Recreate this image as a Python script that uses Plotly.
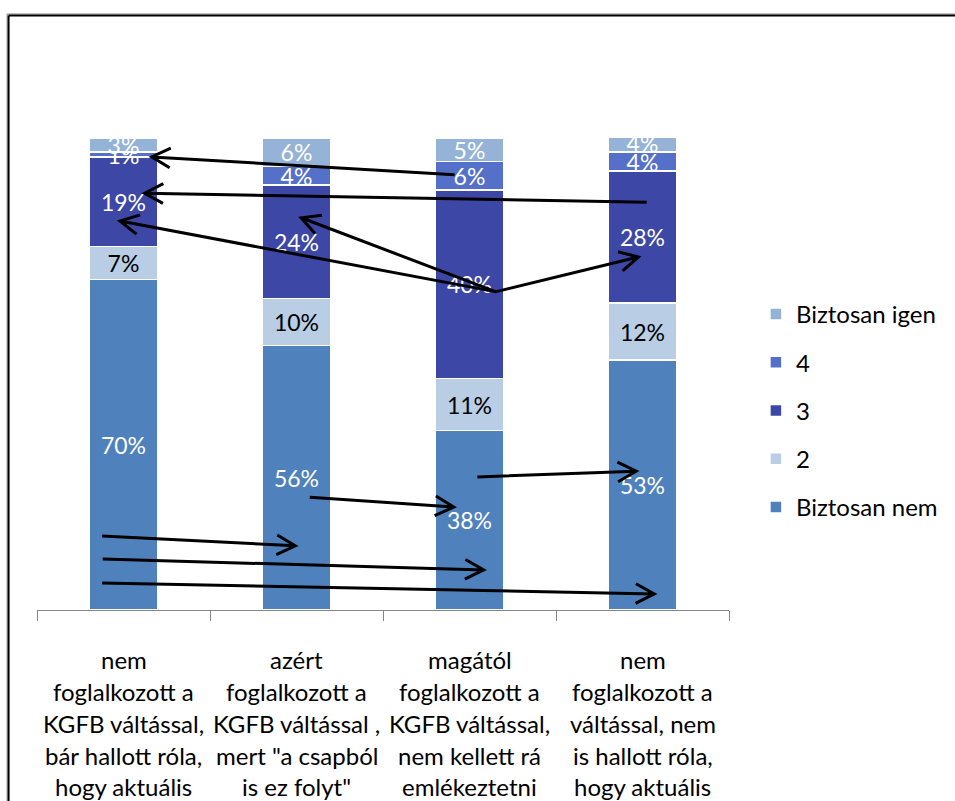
import math
import plotly.graph_objects as go

# Survey answers, share of respondents (%) per group
categories = [
    ["nem", "foglalkozott a", "KGFB váltással,", "bár hallott róla,", "hogy aktuális"],
    ["azért", "foglalkozott a", "KGFB váltással ,", "mert \"a csapból", "is ez folyt\""],
    ["magától", "foglalkozott a", "KGFB váltással,", "nem kellett rá", "emlékeztetni"],
    ["nem", "foglalkozott a", "váltással, nem", "is hallott róla,", "hogy aktuális"],
]
series_names = ["Biztosan nem", "2", "3", "4", "Biztosan igen"]
biztosan_nem = [70, 56, 38, 53]
ketto = [7, 10, 11, 12]
harom = [19, 24, 40, 28]
negy = [1, 4, 6, 4]
biztosan_igen = [3, 6, 5, 4]
series_values = [biztosan_nem, ketto, harom, negy, biztosan_igen]

colors = ["#4F81BD", "#B9CDE5", "#3C47A6", "#5570C9", "#95B3D7"]
text_colors = ["white", "black", "white", "white", "white"]

# Hand-drawn comparison arrows: (tail category pos, tail %, head category pos, head %)
arrows = [
    (1.909, 92.2, 0.163, 96.0),
    (3.016, 86.4, 0.122, 88.3),
    (2.151, 67.4, -0.02, 82.4),
    (2.151, 67.4, 1.027, 83.1),
    (2.151, 67.4, 2.976, 74.8),
    (1.079, 23.9, 1.909, 21.8),
    (2.048, 28.2, 2.964, 29.4),
    (-0.120, 15.7, 0.993, 13.6),
    (-0.114, 10.8, 2.082, 8.5),
    (-0.114, 5.7, 3.068, 3.4),
]

W, H = 955, 801
ML, MR, MT, MB = 37, 224, 138, 191
PW, PH = W - ML - MR, H - MT - MB
FONT = "Lato"


def px_x(p):
    return (p - ML) / PW


def px_y(p):
    return (H - MB - p) / PH


fig = go.Figure()
labels = [",".join(c) for c in categories]
n = len(series_names)
for i, (name, vals, col, tcol) in enumerate(zip(series_names, series_values, colors, text_colors)):
    fig.add_trace(go.Bar(
        name=name, x=labels, y=vals, legendgroup=name, legendrank=n - i,
        marker=dict(color=col, line=dict(color="white", width=1.5)),
        text=[f"{v}%" for v in vals], textposition="inside",
        insidetextanchor="middle",
        textfont=dict(family=FONT, size=23, color=tcol),
        hoverinfo="skip",
    ))

shapes = []
# chart frame (top and left edges; the rest lies outside the page)
shapes.append(dict(type="line", xref="paper", yref="paper",
                   x0=px_x(7), x1=px_x(W + 5), y0=px_y(14), y1=px_y(14),
                   line=dict(color="#8a8a8a", width=1)))
shapes.append(dict(type="line", xref="paper", yref="paper",
                   x0=px_x(7), x1=px_x(7), y0=px_y(14), y1=px_y(H + 5),
                   line=dict(color="#8a8a8a", width=1)))
shapes.append(dict(type="line", xref="paper", yref="paper",
                   x0=px_x(8.5), x1=px_x(W + 5), y0=px_y(15.5), y1=px_y(15.5),
                   line=dict(color="black", width=2)))
shapes.append(dict(type="line", xref="paper", yref="paper",
                   x0=px_x(8.5), x1=px_x(8.5), y0=px_y(15.5), y1=px_y(H + 5),
                   line=dict(color="black", width=2)))

# arrows: drawn in pixel offsets anchored at the head
sx = PW / 4.0
sy = PH / 100.0
arm, half = 21, math.radians(28)
for x0, y0, x1, y1 in arrows:
    dx = (x0 - x1) * sx
    dy = (y0 - y1) * sy
    ang = math.atan2(dy, dx)
    a1 = (arm * math.cos(ang + half), arm * math.sin(ang + half))
    a2 = (arm * math.cos(ang - half), arm * math.sin(ang - half))
    path = (f"M{dx:.2f},{dy:.2f} L0,0 "
            f"M{a1[0]:.2f},{a1[1]:.2f} L0,0 L{a2[0]:.2f},{a2[1]:.2f}")
    shapes.append(dict(type="path", xref="x", yref="y",
                       xsizemode="pixel", ysizemode="pixel",
                       xanchor=x1, yanchor=y1, path=path,
                       line=dict(color="black", width=3)))

annotations = []
line_centers = [659, 691, 723, 755, 786]
for i, lines in enumerate(categories):
    for ln, yc in zip(lines, line_centers):
        annotations.append(dict(
            x=i, y=px_y(yc), xref="x", yref="paper",
            text=ln, showarrow=False, yanchor="middle", xanchor="center",
            font=dict(family=FONT, size=24, color="black"),
        ))

fig.update_layout(
    width=W, height=H,
    margin=dict(l=ML, r=MR, t=MT, b=MB),
    barmode="stack", bargap=0.602,
    paper_bgcolor="white", plot_bgcolor="white",
    font=dict(family=FONT, size=22, color="black"),
    uniformtext=dict(minsize=23, mode="show"),
    showlegend=True,
    legend=dict(
        x=px_x(758), xanchor="left",
        y=px_y(292), yanchor="top",
        traceorder="grouped", tracegroupgap=14,
        font=dict(family=FONT, size=24, color="black"),
        bgcolor="rgba(0,0,0,0)",
    ),
    xaxis=dict(
        type="category", range=[-0.5, 3.5],
        showline=True, linecolor="#868686", linewidth=1,
        ticks="outside", tickson="boundaries", ticklen=10,
        tickcolor="#868686", showticklabels=False,
        showgrid=False, zeroline=False,
    ),
    yaxis=dict(range=[0, 100], visible=False, showgrid=False, zeroline=False),
    shapes=shapes,
    annotations=annotations,
)

fig.write_html("out.html", config={"displayModeBar": False})
